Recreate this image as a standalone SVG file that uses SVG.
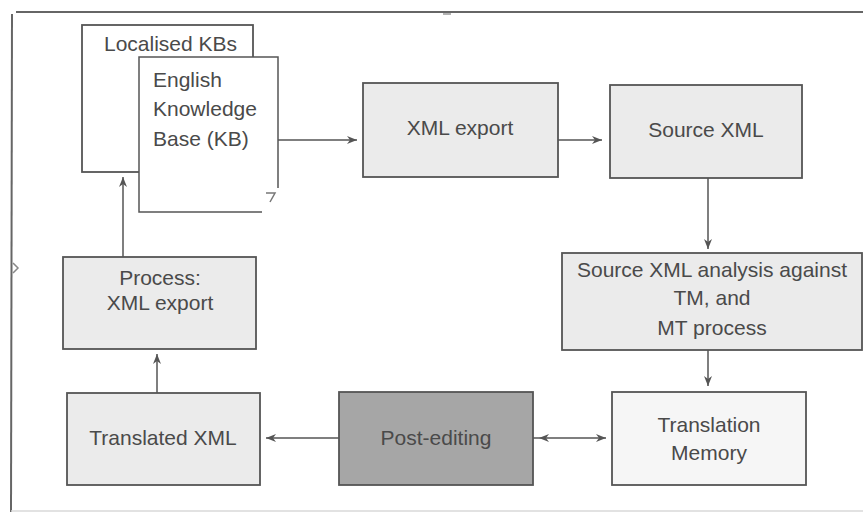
<svg xmlns="http://www.w3.org/2000/svg" width="863" height="513" viewBox="0 0 863 513">
  <style>
    .box { stroke: #555; stroke-width: 1.8; }
    .grey { fill: #ebebeb; }
    .light { fill: #f6f6f6; }
    .dark { fill: #a6a6a6; }
    .white { fill: #ffffff; }
    .lbl { font-family: "Liberation Sans", Arial, sans-serif; font-size: 21px; fill: #4a4a4a; }
    .mid { text-anchor: middle; }
    .conn { stroke: #555; stroke-width: 1.5; fill: none; }
    .frame { stroke: #666; stroke-width: 2; fill: none; }
  </style>
  <defs>
    <marker id="head" viewBox="0 0 10 8" refX="10" refY="4" markerWidth="10" markerHeight="8" markerUnits="userSpaceOnUse" orient="auto-start-reverse">
      <path d="M0,0 L10,4 L0,8 L3,4 Z" fill="#555"/>
    </marker>
  </defs>

  <rect width="863" height="513" fill="#ffffff"/>

  <!-- outer frame -->
  <g id="frame">
    <line class="frame" x1="16" y1="12" x2="863" y2="12"/>
    <line class="frame" x1="12" y1="14" x2="11" y2="512"/>
    <line x1="11" y1="511" x2="863" y2="511" stroke="#d8d8d8" stroke-width="1.5"/>
    <path d="M13,263 L18,268 L13,273" stroke="#888" stroke-width="1.5" fill="none"/>
    <path d="M443,14 L451,14" stroke="#999" stroke-width="1.5" fill="none"/>
  </g>

  <!-- connectors -->
  <g id="connectors">
    <line class="conn" x1="278" y1="140" x2="357" y2="140" marker-end="url(#head)"/>
    <line class="conn" x1="558" y1="140" x2="602" y2="140" marker-end="url(#head)"/>
    <line class="conn" x1="708" y1="178" x2="708" y2="249" marker-end="url(#head)"/>
    <line class="conn" x1="708" y1="350" x2="708" y2="386" marker-end="url(#head)"/>
    <line class="conn" x1="539" y1="438" x2="606" y2="438" marker-start="url(#head)" marker-end="url(#head)"/>
    <line class="conn" x1="339" y1="438" x2="266" y2="438" marker-end="url(#head)"/>
    <line class="conn" x1="157" y1="393" x2="157" y2="354" marker-end="url(#head)"/>
    <line class="conn" x1="123" y1="257" x2="123" y2="177" marker-end="url(#head)"/>
    <line class="conn" x1="533" y1="438" x2="539" y2="438"/>
  </g>

  <g id="localised-kbs">
    <rect class="box white" x="82" y="25" width="171" height="147"/>
    <text class="lbl" x="104" y="51">Localised KBs</text>
  </g>

  <g id="english-kb">
    <rect x="139" y="57" width="139" height="155" fill="#ffffff"/>
    <path class="conn" d="M278,188 L278,57 L139,57 L139,212 L262,212" stroke-width="1.8"/>
    <path d="M266,193 L275,193 L270,202" stroke="#777" stroke-width="1.5" fill="none"/>
    <text class="lbl" x="153" y="87">English</text>
    <text class="lbl" x="153" y="116">Knowledge</text>
    <text class="lbl" x="153" y="146">Base (KB)</text>
  </g>

  <g id="xml-export">
    <rect class="box grey" x="363" y="83" width="195" height="94"/>
    <text class="lbl mid" x="460" y="135">XML export</text>
  </g>

  <g id="source-xml">
    <rect class="box grey" x="610" y="85" width="192" height="93"/>
    <text class="lbl mid" x="706" y="137">Source XML</text>
  </g>

  <g id="analysis">
    <rect class="box grey" x="562" y="253" width="300" height="97"/>
    <text class="lbl mid" x="712" y="277">Source XML analysis against</text>
    <text class="lbl mid" x="712" y="305">TM, and</text>
    <text class="lbl mid" x="712" y="335">MT process</text>
  </g>

  <g id="translation-memory">
    <rect class="box light" x="612" y="392" width="194" height="93"/>
    <text class="lbl mid" x="709" y="432">Translation</text>
    <text class="lbl mid" x="709" y="460">Memory</text>
  </g>

  <g id="post-editing">
    <rect class="box dark" x="339" y="392" width="194" height="93"/>
    <text class="lbl mid" x="436" y="445">Post-editing</text>
  </g>

  <g id="translated-xml">
    <rect class="box grey" x="67" y="393" width="193" height="92"/>
    <text class="lbl mid" x="163" y="445">Translated XML</text>
  </g>

  <g id="process-xml-export">
    <rect class="box grey" x="63" y="257" width="193" height="92"/>
    <text class="lbl mid" x="160" y="285">Process:</text>
    <text class="lbl mid" x="160" y="310">XML export</text>
  </g>
</svg>
